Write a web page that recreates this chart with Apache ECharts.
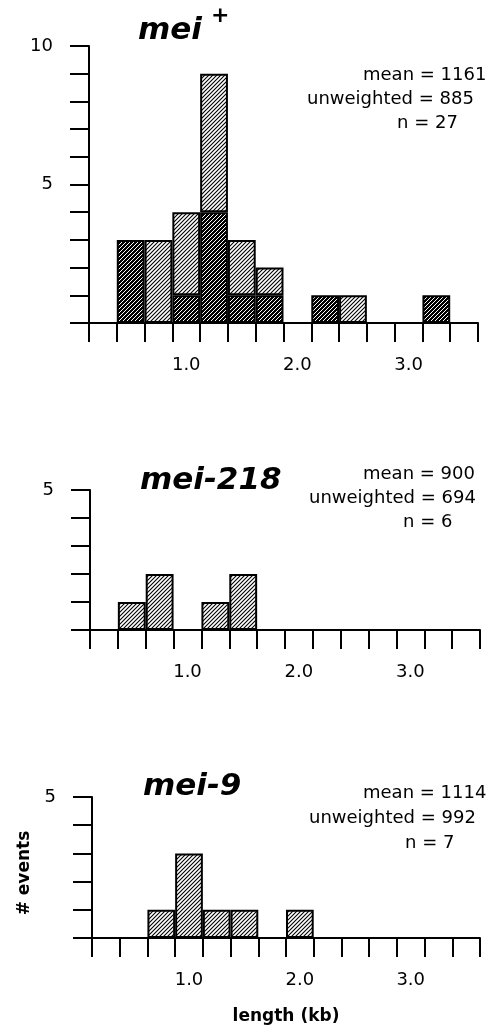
<!DOCTYPE html>
<html>
<head>
<meta charset="utf-8">
<script src="https://cdn.jsdelivr.net/npm/echarts@6/dist/echarts.min.js"></script>
<style>
html,body{margin:0;padding:0;background:#fff;}
#c{width:497px;height:1029px;}
</style>
</head>
<body>
<div id="c"></div>
<script>
// ---------------- data ----------------
const bins = ['0.25','0.5','0.75','1.0','1.25','1.5','1.75','2.0','2.25','2.5','2.75','3.0','3.25','3.5'];
const labeledTicks = ['1.0','2.0','3.0'];
// mei+ : dark (cross-hatched) part and light part, stacked
const meiPlusDark  = [0,3,0,1,4,1,1,0,1,0,0,0,1,0];
const meiPlusLight = [0,0,3,3,5,2,1,0,0,1,0,0,0,0];
const mei218 = [0,1,2,0,1,2,0,0,0,0,0,0,0,0];
const mei9   = [0,0,1,3,1,1,0,1,0,0,0,0,0,0];
const yMax = [10,5,5];
const yLabeled = [[5,10],[5],[5]];
const titles = ['mei','mei-218','mei-9'];
const titleSup = ['+','',''];
const statsMean = ['1161','900','1114'];
const statsUnweighted = ['885','694','992'];
const statsN = ['27','6','7'];
const yAxisName = '# events';
const xAxisName = 'length (kb)';

// ---------------- hatch patterns ----------------
function hatch(bg, fg, lw){
  const s = 4;
  const c = document.createElement('canvas');
  c.width = s; c.height = s;
  const g = c.getContext('2d');
  g.fillStyle = bg; g.fillRect(0,0,s,s);
  g.strokeStyle = fg; g.lineWidth = lw;
  g.beginPath();
  g.moveTo(-1, s+1); g.lineTo(s+1, -1);
  g.moveTo(-1, 1); g.lineTo(1, -1);
  g.moveTo(s-1, s+1); g.lineTo(s+1, s-1);
  g.stroke();
  return {image: c, repeat: 'repeat'};
}
const lightFill = hatch('#ffffff', '#000000', 1.1);
const darkFill  = hatch('#000000', '#ffffff', 1.0);

const FONT = 'DejaVu Sans';
const INK = '#000';
const grids = [
  {left: 89, top: 46,  width: 389, height: 277},
  {left: 90, top: 490, width: 390, height: 140},
  {left: 92, top: 797, width: 388, height: 141}
];

const xAxes = grids.map((g,i)=>({
  type: 'category', gridIndex: i, data: bins,
  boundaryGap: true,
  axisLine: {show: true, lineStyle: {color: INK, width: 2}},
  axisTick: {show: true, length: 19, interval: 0, alignWithLabel: false, lineStyle: {color: INK, width: 2}},
  axisLabel: {show: true, interval: 0, margin: 33, fontFamily: FONT, fontSize: 18, color: INK,
    formatter: v => labeledTicks.indexOf(v) >= 0 ? v : ''},
  splitLine: {show: false}
}));
const yAxes = grids.map((g,i)=>({
  type: 'value', gridIndex: i, min: 0, max: yMax[i], interval: 1,
  axisLine: {show: true, lineStyle: {color: INK, width: 2}},
  axisTick: {show: true, length: 19, lineStyle: {color: INK, width: 2}},
  axisLabel: {show: true, margin: 36, fontFamily: FONT, fontSize: 18, color: INK,
    formatter: v => yLabeled[i].indexOf(v) >= 0 ? String(v) : ''},
  splitLine: {show: false}
}));

const nz = arr => arr.map(v => v === 0 ? '-' : v);
const barBase = {
  type: 'bar', barCategoryGap: '0%', barGap: '0%',
  emphasis: {disabled: true}, animation: false
};
const series = [
  Object.assign({}, barBase, {xAxisIndex: 0, yAxisIndex: 0, stack: 'p', data: nz(meiPlusDark),
    itemStyle: {color: darkFill, borderColor: INK, borderWidth: 2}}),
  Object.assign({}, barBase, {xAxisIndex: 0, yAxisIndex: 0, stack: 'p', data: nz(meiPlusLight),
    itemStyle: {color: lightFill, borderColor: INK, borderWidth: 2}}),
  Object.assign({}, barBase, {xAxisIndex: 1, yAxisIndex: 1, data: nz(mei218),
    itemStyle: {color: lightFill, borderColor: INK, borderWidth: 2}}),
  Object.assign({}, barBase, {xAxisIndex: 2, yAxisIndex: 2, data: nz(mei9),
    itemStyle: {color: lightFill, borderColor: INK, borderWidth: 2}})
];

// ---------------- text ----------------
const titlePos = [{x: 138, y: 31}, {x: 140, y: 481}, {x: 143, y: 787}];
const supPos = [{x: 211, y: 16}];
const statLeft = [[363, 307, 397], [363, 309, 403], [363, 309, 405]];
const statY = [[75, 99, 123], [474, 498, 522], [793, 818, 843]];
const graphics = [];
titles.forEach((t,i)=>{
  graphics.push({type: 'text', x: titlePos[i].x, y: titlePos[i].y,
    style: {text: t, fontFamily: FONT, fontSize: 31, fontWeight: 'bold', fontStyle: 'italic',
      fill: INK, align: 'left', verticalAlign: 'middle'}});
  if (titleSup[i]) graphics.push({type: 'text', x: supPos[i].x, y: supPos[i].y,
    style: {text: titleSup[i], fontFamily: FONT, fontSize: 22, fontWeight: 'bold',
      fill: INK, align: 'left', verticalAlign: 'middle'}});
  const lines = ['mean = ' + statsMean[i], 'unweighted = ' + statsUnweighted[i], 'n = ' + statsN[i]];
  lines.forEach((ln,k)=>{
    graphics.push({type: 'text', x: statLeft[i][k], y: statY[i][k],
      style: {text: ln, fontFamily: FONT, fontSize: 18, fill: INK, align: 'left', verticalAlign: 'middle'}});
  });
});
graphics.push({type: 'text', x: 25, y: 873, rotation: Math.PI/2,
  style: {text: yAxisName, fontFamily: FONT, fontSize: 17, fontWeight: 'bold', fill: INK,
    align: 'center', verticalAlign: 'middle'}});
graphics.push({type: 'text', x: 286, y: 1017,
  style: {text: xAxisName, fontFamily: FONT, fontSize: 17, fontWeight: 'bold', fill: INK,
    align: 'center', verticalAlign: 'middle'}});

const chart = echarts.init(document.getElementById('c'), null, {renderer: 'canvas'});
chart.setOption({
  animation: false,
  backgroundColor: '#ffffff',
  grid: grids,
  xAxis: xAxes,
  yAxis: yAxes,
  series: series,
  graphic: graphics
});
</script>
</body>
</html>
